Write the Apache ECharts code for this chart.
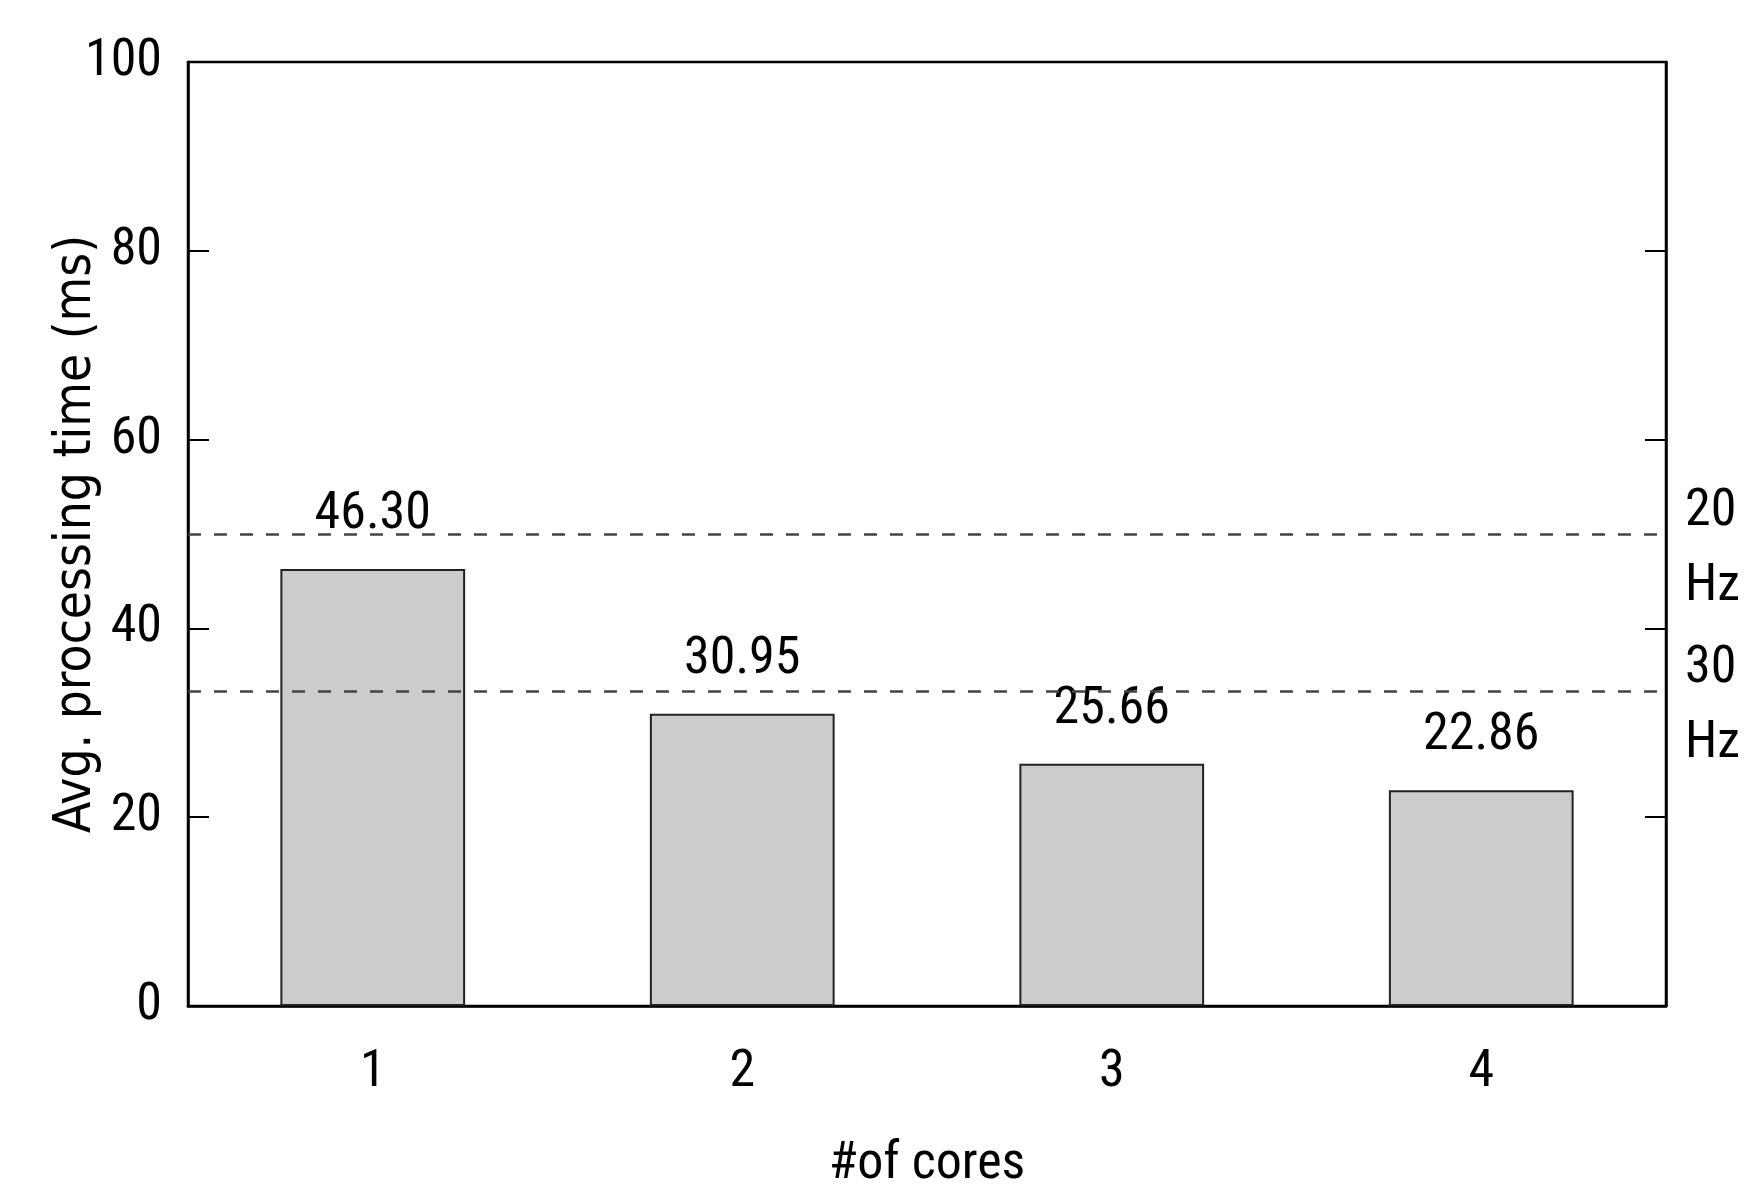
<!DOCTYPE html>
<html>
<head>
<meta charset="utf-8">
<script src="https://cdn.jsdelivr.net/npm/echarts@6/dist/echarts.min.js"></script>
<style>html,body{margin:0;padding:0;background:#fff}#c{width:1748px;height:1188px}</style>
</head>
<body>
<div id="c"></div>
<script>
const categories = ['1', '2', '3', '4'];
const times = [46.30, 30.95, 25.66, 22.86];
const refLines = [{ value: 1000 / 20, text: '20\nHz' }, { value: 1000 / 30, text: '30\nHz' }];
const yTicks = [0, 20, 40, 60, 80, 100];

const FONT = '"Roboto Condensed", "DejaVu Sans Condensed", sans-serif';
const NAMEFONT = '"DejaVu Sans Condensed", sans-serif';
const FS = 52;
const chart = echarts.init(document.getElementById('c'), null, { renderer: 'canvas' });
chart.setOption({
  animation: false,
  backgroundColor: '#fff',
  textStyle: { fontFamily: FONT, color: '#000' },
  grid: { left: 188, right: 82, top: 62, bottom: 182, containLabel: false, outerBoundsMode: 'none', show: true, borderColor: '#000', borderWidth: 2.5, backgroundColor: 'transparent' },
  xAxis: {
    type: 'category',
    data: categories,
    name: '#of cores',
    nameLocation: 'middle',
    nameGap: 133,
    nameMoveOverlap: false,
    nameTextStyle: { fontSize: FS, fontFamily: FONT, color: '#000' },
    axisLine: { show: true, lineStyle: { color: '#000', width: 2.5 } },
    axisTick: { show: false },
    axisLabel: { fontSize: FS, fontFamily: FONT, color: '#000', margin: 41 }
  },
  yAxis: [{
    type: 'value',
    min: yTicks[0], max: yTicks[yTicks.length - 1], interval: 20,
    name: 'Avg. processing time (ms)',
    nameLocation: 'middle',
    nameGap: 86,
    nameMoveOverlap: false,
    nameTextStyle: { fontSize: 51, fontFamily: NAMEFONT, color: '#000' },
    axisLine: { show: true, lineStyle: { color: '#000', width: 2.5 } },
    axisTick: { show: true, inside: true, length: 21, lineStyle: { color: '#000', width: 2 } },
    axisLabel: { fontSize: FS, fontFamily: FONT, color: '#000', margin: 26 },
    splitLine: { show: false }
  }, {
    type: 'value',
    position: 'right',
    min: yTicks[0], max: yTicks[yTicks.length - 1], interval: 20,
    axisLine: { show: true, lineStyle: { color: '#000', width: 2.5 } },
    axisTick: { show: true, inside: true, length: 21, lineStyle: { color: '#000', width: 2 } },
    axisLabel: { show: false },
    splitLine: { show: false }
  }],
  series: [{
    type: 'bar',
    data: times,
    barWidth: '50%',
    itemStyle: { color: '#cccccc', borderColor: '#222', borderWidth: 2 },
    label: {
      show: true, position: 'top', distance: 28,
      fontSize: FS, fontFamily: FONT, color: '#000',
      formatter: p => p.value.toFixed(2)
    },
    markLine: {
      silent: true,
      symbol: ['none', 'none'],
      lineStyle: { type: [13, 13], color: '#444', width: 2.5 },
      label: {
        show: true, position: 'end', distance: 19,
        fontSize: FS, fontFamily: FONT, color: '#000', lineHeight: 75,
        offset: [0, 15],
        formatter: p => refLines[p.dataIndex].text
      },
      data: refLines.map(r => ({ yAxis: r.value }))
    }
  }]
});
</script>
</body>
</html>
